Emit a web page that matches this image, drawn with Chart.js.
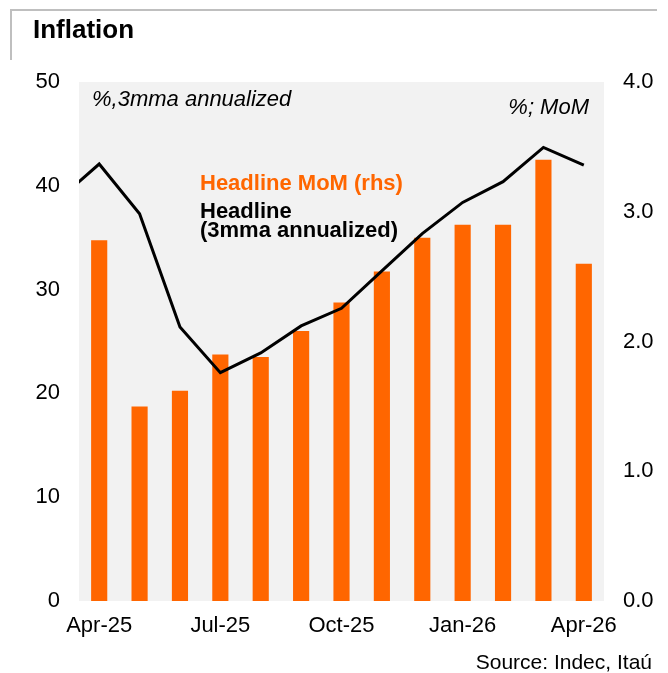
<!DOCTYPE html>
<html>
<head>
<meta charset="utf-8">
<script src="https://cdn.jsdelivr.net/npm/chart.js@4/dist/chart.umd.min.js"></script>
<style>
  html, body { margin: 0; padding: 0; background: #fff; }
  canvas { display: block; }
</style>
</head>
<body>
<canvas id="inflationChart" width="668" height="673"></canvas>
<script>
// Meses (eixo x)
var months = ['Apr-25', 'May-25', 'Jun-25', 'Jul-25', 'Aug-25', 'Sep-25', 'Oct-25',
              'Nov-25', 'Dec-25', 'Jan-26', 'Feb-26', 'Mar-26', 'Apr-26'];
// Inflação mensal (% MoM, eixo direito)
var headlineMoM = [2.78, 1.50, 1.62, 1.90, 1.88, 2.08, 2.30, 2.54, 2.80, 2.90, 2.90, 3.40, 2.60];
// Média móvel 3m anualizada (eixo esquerdo); primeiro valor = Mar-25, cortado na borda
var headline3mma = [38.7, 42.1, 37.3, 26.4, 22.0, 23.9, 26.5, 28.2, 31.8, 35.4, 38.4, 40.4, 43.7, 42.0];
// Rótulos dos eixos
var xTickIdx = [0, 3, 6, 9, 12];
var leftTicks = [0, 10, 20, 30, 40, 50];
var rightTicks = [0, 1, 2, 3, 4];

var FONT = '"Liberation Sans", Arial, sans-serif';
var ORANGE = '#FF6600';

var barPoints = headlineMoM.map(function (v, i) { return { x: i, y: v }; });
var linePoints = headline3mma.map(function (v, i) { return { x: i - 1, y: v }; });

// Fundo cinza da área do gráfico + textos extras
var decorPlugin = {
    id: 'decor',
    beforeDatasetsDraw: function (chart) {
        var a = chart.chartArea, ctx = chart.ctx;
        ctx.save();
        ctx.fillStyle = '#F2F2F2';
        ctx.fillRect(a.left, a.top, a.right - a.left, a.bottom - a.top);
        ctx.restore();
    },
    afterDraw: function (chart) {
        var ctx = chart.ctx;
        ctx.save();
        // moldura do título
        ctx.strokeStyle = '#BFBFBF';
        ctx.lineWidth = 2;
        ctx.beginPath();
        ctx.moveTo(11, 60);
        ctx.lineTo(11, 10);
        ctx.lineTo(657, 10);
        ctx.stroke();

        ctx.textBaseline = 'middle';
        ctx.fillStyle = '#000';
        ctx.textAlign = 'left';
        ctx.font = 'bold 26px ' + FONT;
        ctx.fillText('Inflation', 33, 31);

        ctx.font = 'italic 22px ' + FONT;
        ctx.fillText('%,3mma annualized', 92, 100);
        ctx.textAlign = 'right';
        ctx.fillText('%; MoM', 589, 108);

        ctx.textAlign = 'left';
        ctx.font = 'bold 22px ' + FONT;
        ctx.fillStyle = ORANGE;
        ctx.fillText('Headline MoM (rhs)', 200, 184);
        ctx.fillStyle = '#000';
        ctx.fillText('Headline', 200, 212);
        ctx.fillText('(3mma annualized)', 200, 231);

        ctx.textAlign = 'right';
        ctx.font = '21px ' + FONT;
        ctx.fillText('Source: Indec, Itaú', 652, 663);
        ctx.restore();
    }
};

function setTicks(values) {
    return function (scale) {
        scale.ticks = values.map(function (v) { return { value: v }; });
    };
}

new Chart(document.getElementById('inflationChart').getContext('2d'), {
    data: {
        datasets: [
            {
                type: 'line',
                label: 'Headline (3mma annualized)',
                data: linePoints,
                yAxisID: 'y',
                borderColor: '#000',
                borderWidth: 3,
                pointRadius: 0,
                tension: 0,
                clip: 0,
                order: 0
            },
            {
                type: 'bar',
                label: 'Headline MoM (rhs)',
                data: barPoints,
                yAxisID: 'y1',
                backgroundColor: ORANGE,
                barPercentage: 0.5,
                categoryPercentage: 0.8,
                order: 1
            }
        ]
    },
    options: {
        responsive: false,
        animation: false,
        layout: { padding: { top: 82, left: 0, right: 0, bottom: 0 } },
        plugins: {
            legend: { display: false },
            tooltip: { enabled: false }
        },
        scales: {
            x: {
                type: 'linear',
                min: -0.5,
                max: 12.5,
                offset: false,
                bounds: 'data',
                grid: { display: false, drawTicks: false, offset: false },
                border: { display: false },
                afterBuildTicks: setTicks(xTickIdx),
                afterFit: function (s) { s.height = 72; },
                ticks: {
                    color: '#000',
                    font: { family: FONT, size: 22 },
                    padding: 12,
                    maxRotation: 0,
                    autoSkip: false,
                    callback: function (v) { return months[v]; }
                }
            },
            y: {
                position: 'left',
                min: 0,
                max: 50,
                grid: { display: false, drawTicks: false },
                border: { display: false },
                afterBuildTicks: setTicks(leftTicks),
                afterFit: function (s) { s.width = 79; },
                ticks: {
                    color: '#000',
                    font: { family: FONT, size: 22 },
                    padding: 19
                }
            },
            y1: {
                position: 'right',
                min: 0,
                max: 4,
                grid: { display: false, drawTicks: false },
                border: { display: false },
                afterBuildTicks: setTicks(rightTicks),
                afterFit: function (s) { s.width = 64; },
                ticks: {
                    color: '#000',
                    font: { family: FONT, size: 22 },
                    padding: 19,
                    callback: function (v) { return v.toFixed(1); }
                }
            }
        }
    },
    plugins: [decorPlugin]
});
</script>
</body>
</html>
